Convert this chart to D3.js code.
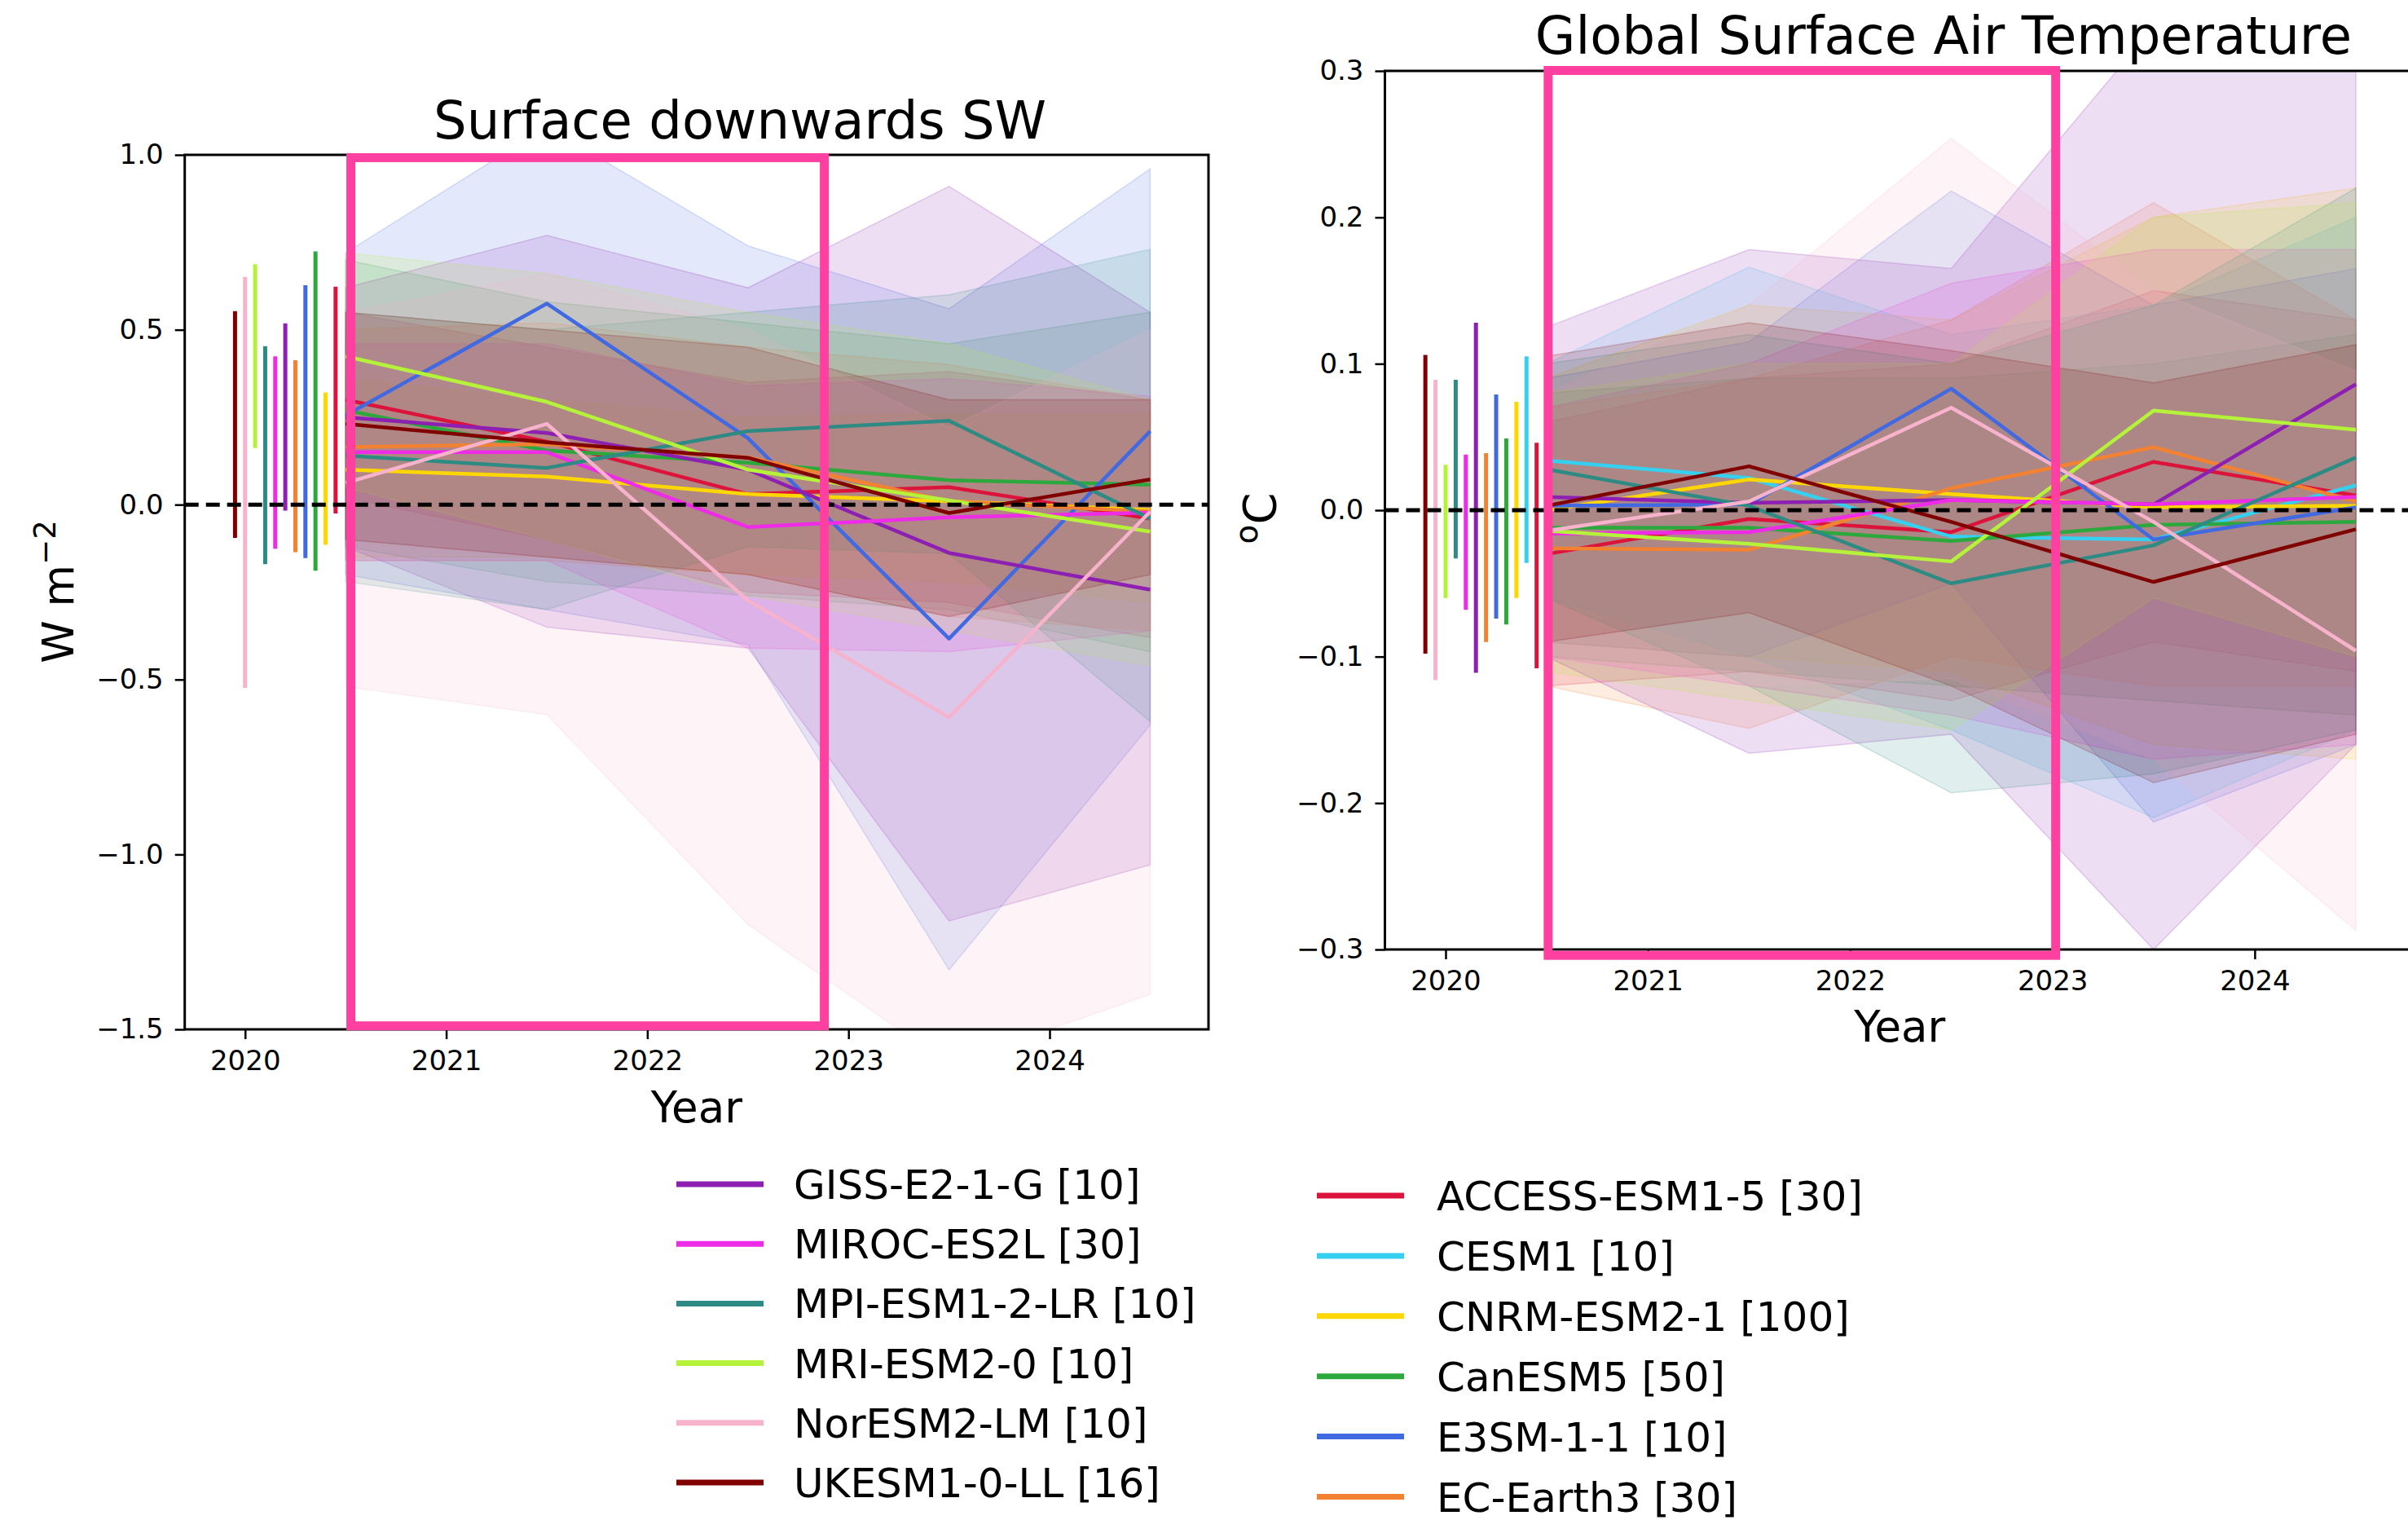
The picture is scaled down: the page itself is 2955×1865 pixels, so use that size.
<!DOCTYPE html>
<html>
<head>
<meta charset="utf-8">
<script src="https://cdn.jsdelivr.net/npm/d3@7"></script>
<style>
  body { margin: 0; background: #fff; }
  text { font-family: "DejaVu Sans", sans-serif; fill: #000; }
</style>
</head>
<body>
<div id="chart"></div>
<script>
// models, alphabetical (same order in every array below)
const models = ["ACCESS-ESM1-5", "CESM1", "CNRM-ESM2-1", "CanESM5", "E3SM-1-1", "EC-Earth3",
                "GISS-E2-1-G", "MIROC-ES2L", "MPI-ESM1-2-LR", "MRI-ESM2-0", "NorESM2-LM", "UKESM1-0-LL"];
const members = [30, 10, 100, 50, 10, 30, 10, 30, 10, 10, 10, 16];
const colors = ["#dc143c", "#35d0f0", "#ffd700", "#2ca83c", "#4169e1", "#f28232",
                "#8e1fb3", "#ee2be6", "#2e8b83", "#b5f23a", "#f7b3cc", "#800000"];
const years = [2020.5, 2021.5, 2022.5, 2023.5, 2024.5];

// Surface downwards SW, W m-2 (CESM1 not shown)
const swMean = [
  [0.30, 0.18, 0.03, 0.05, -0.04],
  null,
  [0.10, 0.08, 0.03, 0.01, -0.015],
  [0.27, 0.155, 0.12, 0.07, 0.057],
  [0.255, 0.575, 0.19, -0.383, 0.21],
  [0.165, 0.173, 0.135, 0.01, -0.02],
  [0.25, 0.205, 0.10, -0.138, -0.243],
  [0.15, 0.15, -0.064, -0.036, -0.023],
  [0.14, 0.105, 0.21, 0.24, -0.04],
  [0.424, 0.294, 0.10, 0.012, -0.077],
  [0.062, 0.231, -0.274, -0.608, -0.02],
  [0.231, 0.178, 0.134, -0.024, 0.072]
];
const swUpper = [
  [0.55, 0.45, 0.35, 0.38, 0.30],
  null,
  [0.36, 0.30, 0.25, 0.26, 0.26],
  [0.70, 0.58, 0.52, 0.46, 0.55],
  [0.72, 1.08, 0.74, 0.56, 0.96],
  [0.50, 0.52, 0.45, 0.40, 0.30],
  [0.62, 0.77, 0.62, 0.91, 0.55],
  [0.46, 0.46, 0.34, 0.36, 0.31],
  [0.55, 0.50, 0.55, 0.60, 0.73],
  [0.72, 0.66, 0.55, 0.46, 0.30],
  [0.55, 0.66, 0.50, 0.22, 0.50],
  [0.55, 0.50, 0.45, 0.30, 0.30]
];
const swLower = [
  [0.02, -0.10, -0.25, -0.28, -0.38],
  null,
  [-0.15, -0.15, -0.20, -0.22, -0.28],
  [-0.12, -0.22, -0.26, -0.30, -0.42],
  [-0.20, -0.30, -0.40, -1.33, -0.63],
  [-0.16, -0.16, -0.20, -0.32, -0.36],
  [-0.12, -0.35, -0.41, -1.19, -1.03],
  [-0.16, -0.16, -0.41, -0.42, -0.36],
  [-0.22, -0.30, -0.12, -0.14, -0.62],
  [0.05, -0.10, -0.26, -0.36, -0.46],
  [-0.52, -0.60, -1.20, -1.60, -1.40],
  [-0.10, -0.15, -0.20, -0.32, -0.20]
];
// spread bars drawn around 2020 [low, high]
const swSpread = [
  [-0.025, 0.623], null, [-0.115, 0.321], [-0.189, 0.724], [-0.153, 0.627], [-0.136, 0.413],
  [-0.017, 0.518], [-0.126, 0.424], [-0.170, 0.453], [0.162, 0.687], [-0.524, 0.651], [-0.095, 0.553]
];

// Global surface air temperature, oC
const tasMean = [
  [-0.030, -0.006, -0.015, 0.033, 0.010],
  [0.034, 0.022, -0.018, -0.020, 0.017],
  [0.000, 0.021, 0.011, 0.002, 0.003],
  [-0.012, -0.012, -0.021, -0.010, -0.008],
  [0.003, 0.004, 0.083, -0.020, 0.002],
  [-0.026, -0.027, 0.015, 0.043, 0.006],
  [0.009, 0.005, 0.007, 0.004, 0.086],
  [-0.016, -0.015, 0.007, 0.004, 0.009],
  [0.028, 0.003, -0.050, -0.024, 0.036],
  [-0.014, -0.023, -0.035, 0.068, 0.055],
  [-0.014, 0.006, 0.070, -0.008, -0.096],
  [0.003, 0.030, -0.008, -0.049, -0.013]
];
const tasUpper = [
  [0.06, 0.09, 0.10, 0.15, 0.13],
  [0.10, 0.166, 0.12, 0.14, 0.20],
  [0.09, 0.14, 0.13, 0.20, 0.22],
  [0.08, 0.09, 0.09, 0.10, 0.12],
  [0.09, 0.115, 0.218, 0.14, 0.165],
  [0.07, 0.09, 0.13, 0.21, 0.13],
  [0.125, 0.178, 0.165, 0.33, 0.36],
  [0.07, 0.10, 0.155, 0.178, 0.178],
  [0.10, 0.12, 0.10, 0.14, 0.22],
  [0.08, 0.10, 0.10, 0.20, 0.21],
  [0.08, 0.14, 0.254, 0.15, 0.095],
  [0.105, 0.128, 0.109, 0.087, 0.113]
];
const tasLower = [
  [-0.12, -0.11, -0.13, -0.09, -0.11],
  [-0.06, -0.10, -0.15, -0.21, -0.15],
  [-0.09, -0.10, -0.11, -0.16, -0.17],
  [-0.10, -0.11, -0.12, -0.13, -0.14],
  [-0.09, -0.10, -0.05, -0.213, -0.16],
  [-0.12, -0.149, -0.10, -0.12, -0.12],
  [-0.10, -0.166, -0.153, -0.30, -0.16],
  [-0.10, -0.12, -0.14, -0.17, -0.16],
  [-0.06, -0.12, -0.193, -0.18, -0.15],
  [-0.11, -0.13, -0.15, -0.06, -0.10],
  [-0.10, -0.12, -0.115, -0.17, -0.287],
  [-0.09, -0.07, -0.12, -0.186, -0.153]
];
const tasSpread = [
  [-0.108, 0.046], [-0.036, 0.105], [-0.060, 0.074], [-0.078, 0.049], [-0.074, 0.079], [-0.090, 0.039],
  [-0.111, 0.128], [-0.068, 0.038], [-0.033, 0.089], [-0.060, 0.031], [-0.116, 0.089], [-0.098, 0.106]
];

const yearTicks = [2020, 2021, 2022, 2023, 2024];
const swTicks = [-1.5, -1.0, -0.5, 0.0, 0.5, 1.0];
const tasTicks = [-0.3, -0.2, -0.1, 0.0, 0.1, 0.2, 0.3];
// pink highlight boxes [x0, x1, y0, y1] in data units
const swBox = [2020.526, 2022.88, -1.49, 0.992];
const tasBox = [2020.507, 2023.016, -0.304, 0.3003];

const legendLeft = ["GISS-E2-1-G", "MIROC-ES2L", "MPI-ESM1-2-LR", "MRI-ESM2-0", "NorESM2-LM", "UKESM1-0-LL"];
const legendRight = ["ACCESS-ESM1-5", "CESM1", "CNRM-ESM2-1", "CanESM5", "E3SM-1-1", "EC-Earth3"];

const W = 2955, H = 1865;
const svg = d3.select("#chart").append("svg")
    .attr("width", W).attr("height", H)
    .attr("viewBox", [0, 0, W, H]);
svg.append("rect").attr("width", W).attr("height", H).attr("fill", "#fff");

function panel({id, mean, upper, lower, spread, yDomain, ticks, box,
                left, right, top, bottom, title, titleX, titleY, xlabY, ylab}) {
    const x = d3.scaleLinear().domain([2019.7, 2024.79]).range([left, right]);
    const y = d3.scaleLinear().domain(yDomain).range([bottom, top]);
    const g = svg.append("g");

    g.append("clipPath").attr("id", id)
        .append("rect")
        .attr("x", left).attr("y", top)
        .attr("width", right - left).attr("height", bottom - top);

    const plot = g.append("g").attr("clip-path", `url(#${id})`);
    const shown = models.map((m, i) => i).filter(i => mean[i]);

    // ensemble ranges
    const area = d3.area()
        .x((d, j) => x(years[j]))
        .y0(d => y(d[0]))
        .y1(d => y(d[1]));
    plot.append("g").selectAll("path")
        .data(shown)
        .join("path")
        .attr("d", i => area(years.map((yr, j) => [lower[i][j], upper[i][j]])))
        .attr("fill", i => colors[i])
        .attr("fill-opacity", 0.15)
        .attr("stroke", i => colors[i])
        .attr("stroke-opacity", 0.2)
        .attr("stroke-width", 1.5);

    // ensemble means
    const line = d3.line().x((d, j) => x(years[j])).y(d => y(d));
    plot.append("g").selectAll("path")
        .data(shown)
        .join("path")
        .attr("d", i => line(mean[i]))
        .attr("fill", "none")
        .attr("stroke", i => colors[i])
        .attr("stroke-width", 4.5)
        .attr("stroke-linejoin", "round");

    // spread bars, placed back from 2020.45 in steps of 0.05
    plot.append("g").selectAll("line")
        .data(shown)
        .join("line")
        .attr("x1", (i, k) => x(2020.45 - 0.05 * k))
        .attr("x2", (i, k) => x(2020.45 - 0.05 * k))
        .attr("y1", i => y(spread[i][0]))
        .attr("y2", i => y(spread[i][1]))
        .attr("stroke", i => colors[i])
        .attr("stroke-width", 5);

    // zero line
    plot.append("line")
        .attr("x1", left).attr("x2", right)
        .attr("y1", y(0)).attr("y2", y(0))
        .attr("stroke", "#000")
        .attr("stroke-width", 5)
        .attr("stroke-dasharray", "17,9");

    // axes
    const fmt = d3.format(".1f");
    g.append("g")
        .attr("transform", `translate(0,${bottom})`)
        .call(d3.axisBottom(x).tickValues(yearTicks).tickFormat(d3.format("d")).tickSize(12).tickPadding(14))
        .call(a => a.select(".domain").remove())
        .call(a => a.selectAll("line").attr("stroke-width", 2.5))
        .call(a => a.selectAll("text").attr("font-size", 34).attr("font-family", "DejaVu Sans"));
    g.append("g")
        .attr("transform", `translate(${left},0)`)
        .call(d3.axisLeft(y).tickValues(ticks).tickFormat(fmt).tickSize(12).tickPadding(14))
        .call(a => a.select(".domain").remove())
        .call(a => a.selectAll("line").attr("stroke-width", 2.5))
        .call(a => a.selectAll("text").attr("font-size", 34).attr("font-family", "DejaVu Sans"));

    g.append("rect")
        .attr("x", left).attr("y", top)
        .attr("width", right - left).attr("height", bottom - top)
        .attr("fill", "none").attr("stroke", "#000").attr("stroke-width", 3);

    // highlight box
    g.append("rect")
        .attr("x", x(box[0])).attr("y", y(box[3]))
        .attr("width", x(box[1]) - x(box[0]))
        .attr("height", y(box[2]) - y(box[3]))
        .attr("fill", "none").attr("stroke", "#ff40a0").attr("stroke-width", 11);

    g.append("text")
        .attr("x", titleX).attr("y", titleY)
        .attr("text-anchor", "middle")
        .attr("font-size", 64)
        .text(title);
    g.append("text")
        .attr("x", (left + right) / 2).attr("y", xlabY)
        .attr("text-anchor", "middle")
        .attr("font-size", 53)
        .text("Year");
    ylab(g, (top + bottom) / 2);
}

panel({
    id: "clip-sw", mean: swMean, upper: swUpper, lower: swLower, spread: swSpread,
    yDomain: [-1.5, 1.0], ticks: swTicks, box: swBox,
    left: 226.7, right: 1483, top: 190, bottom: 1263,
    title: "Surface downwards SW", titleX: 908, titleY: 170, xlabY: 1377,
    ylab: (g, cy) => {
        const t = g.append("text")
            .attr("transform", `translate(90,726) rotate(-90)`)
            .attr("text-anchor", "middle")
            .attr("font-size", 53);
        t.append("tspan").text("W m");
        t.append("tspan").attr("font-size", 37).attr("dy", -22).text("\u22122");
    }
});

panel({
    id: "clip-tas", mean: tasMean, upper: tasUpper, lower: tasLower, spread: tasSpread,
    yDomain: [-0.3, 0.3], ticks: tasTicks, box: tasBox,
    left: 1699.5, right: 2963, top: 87, bottom: 1165,
    title: "Global Surface Air Temperature", titleX: 2385, titleY: 66, xlabY: 1278,
    ylab: (g, cy) => {
        const t = g.append("text")
            .attr("transform", `translate(1565,636) rotate(-90)`)
            .attr("text-anchor", "middle")
            .attr("font-size", 56);
        t.append("tspan").attr("font-size", 39).attr("dy", -22).text("o");
        t.append("tspan").attr("dy", 22).text("C");
    }
});

// legend, two columns
function legendColumn(names, lineX, textX, y0, step) {
    const lg = svg.append("g").selectAll("g")
        .data(names)
        .join("g")
        .attr("transform", (d, i) => `translate(0,${y0 + i * step})`);
    lg.append("line")
        .attr("x1", lineX).attr("x2", lineX + 107)
        .attr("stroke", d => colors[models.indexOf(d)])
        .attr("stroke-width", 7);
    lg.append("text")
        .attr("x", textX).attr("y", 18)
        .attr("font-size", 50)
        .text(d => `${d} [${members[models.indexOf(d)]}]`);
}
legendColumn(legendLeft, 830, 974, 1453, 73.2);
legendColumn(legendRight, 1616, 1763, 1467, 73.9);
</script>
</body>
</html>
